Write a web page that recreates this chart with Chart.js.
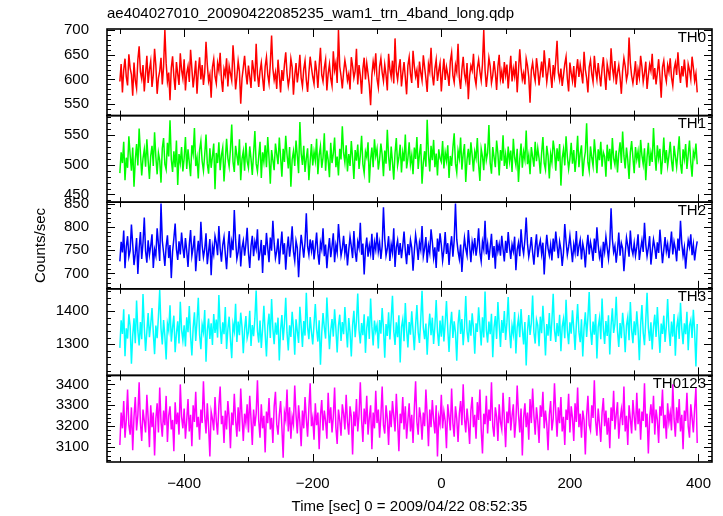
<!DOCTYPE html>
<html>
<head>
<meta charset="utf-8">
<script src="https://cdn.jsdelivr.net/npm/chart.js@4.4.1/dist/chart.umd.min.js"></script>
<style>
  html, body { margin: 0; padding: 0; background: #fff; }
  #wrap { position: relative; width: 723px; height: 516px; }
</style>
</head>
<body>
<div id="wrap"><canvas id="c" width="723" height="516"></canvas></div>
<script>
// ---- data (2 s bins from -500 s) ----
const T0 = -500;
const DT = 2;
const panelNames = ['TH0', 'TH1', 'TH2', 'TH3', 'TH0123'];
const xTicks = [-400, -200, 0, 200, 400];
const xMinorTicks = [-500, -300, -100, 100, 300];
const yTicks0 = [550, 600, 650, 700];
const yTicks1 = [450, 500, 550];
const yTicks2 = [700, 750, 800, 850];
const yTicks3 = [1300, 1400];
const yTicks4 = [3100, 3200, 3300, 3400];

const th0 = [
596,631,574,619,642,605,588,651,623,610,567,634,598,582,640,667,615,601,629,576,612,648,593,620,637,
585,609,662,628,571,603,617,644,590,626,700,633,596,614,558,623,647,606,579,635,611,589,653,619,602,
641,578,613,627,595,660,622,584,608,638,571,617,645,600,629,589,614,676,630,597,610,563,625,641,606,
592,633,618,654,600,575,621,609,643,586,627,612,598,669,631,580,605,637,616,551,602,624,648,613,590,
628,606,583,639,620,596,672,611,585,617,634,603,577,626,645,610,592,631,689,622,599,614,581,640,608,
574,619,597,630,655,612,587,604,642,625,569,608,633,594,616,650,603,586,621,638,599,575,613,646,624,
605,591,638,617,583,628,664,609,596,624,640,578,612,631,602,587,657,619,634,593,700,626,607,582,615,
639,622,598,611,580,645,627,603,617,662,590,629,608,571,621,644,600,633,612,588,548,609,636,618,653,
601,584,626,643,614,597,630,609,578,652,621,605,638,592,683,617,599,624,641,586,612,635,604,570,628,
645,611,593,658,627,606,619,583,636,614,598,649,625,602,575,631,616,664,609,588,622,640,597,618,633,
576,613,642,599,625,610,587,637,654,608,594,629,615,672,603,581,620,646,611,596,633,560,607,628,618,
652,604,589,623,640,616,598,631,700,619,585,611,644,627,593,608,637,613,579,626,650,601,617,592,635,
609,630,582,615,648,596,622,606,637,574,618,661,624,600,613,590,642,628,605,553,619,634,611,597,643,
621,588,613,636,604,659,626,595,617,643,610,583,629,607,638,678,614,599,622,587,608,631,646,602,576,
634,613,597,627,584,617,641,605,630,612,592,656,620,603,574,625,639,611,595,648,618,600,633,609,586,
622,645,608,579,631,616,598,663,624,605,637,590,614,629,604,571,618,643,627,599,612,685,633,607,592,
611,637,589,620,604,648,626,595,613,636,581,608,630,617,652,600,623,590,614,641,606,563,625,638,610,
596,629,615,643,604,587,621,634,609,655,618,593,627,606,640,612,584,631,619,601,646,624,597,612,574
];
const th1 = [
486,521,503,539,474,512,495,548,517,490,529,463,508,535,499,561,520,482,511,526,497,543,507,476,515,
532,498,555,513,484,520,507,470,528,545,501,492,537,514,575,509,488,523,496,541,466,518,503,530,489,
511,547,493,526,504,481,533,519,562,498,512,477,525,540,506,490,517,551,502,485,528,495,514,536,459,
520,503,538,491,516,529,472,508,544,511,497,526,568,505,488,532,516,499,543,474,510,523,490,537,506,
495,531,510,483,520,557,502,489,514,539,478,521,505,533,496,547,512,468,525,508,491,536,518,501,546,
513,480,527,505,549,517,494,530,463,509,523,498,541,515,486,572,519,500,532,488,511,528,474,506,535,
499,522,507,544,484,516,531,495,512,553,490,524,508,479,537,503,519,546,496,514,482,527,509,565,520,
504,533,489,518,498,540,511,476,525,507,534,493,516,549,501,486,522,513,538,470,509,529,496,543,515,
527,492,509,536,517,481,524,502,559,514,490,531,505,475,520,545,499,512,534,487,521,506,551,494,511,
538,501,516,484,529,510,547,493,518,535,468,504,523,497,576,517,489,532,508,542,496,519,482,526,511,
505,540,494,521,507,533,478,515,498,529,553,502,487,524,511,546,492,518,535,471,509,527,500,538,516,
489,522,511,545,500,473,527,514,491,536,508,520,567,503,485,530,513,496,541,519,482,525,507,550,498,
517,493,531,506,524,488,544,512,499,527,471,510,536,495,522,509,558,501,516,484,530,513,497,539,506,
528,511,485,520,547,503,492,532,515,477,518,504,541,524,490,528,506,535,465,511,526,499,548,514,493,
510,537,502,525,488,513,549,496,519,533,481,507,522,570,504,490,531,512,498,543,517,486,526,508,539,
497,521,514,480,534,506,527,492,545,511,500,524,487,519,538,503,556,515,494,529,508,476,521,540,512,
486,530,509,523,495,542,516,501,528,474,513,537,498,520,505,562,518,490,533,511,527,484,509,546,503,
525,498,515,539,507,489,532,514,496,521,548,502,485,526,510,535,493,517,541,504,480,522,513,536,501
];
const th2 = [
726,768,745,792,711,757,780,736,749,805,762,718,743,776,699,754,789,731,766,820,748,723,771,740,759,
784,712,751,738,797,763,727,850,770,745,716,758,782,733,761,690,747,775,807,752,729,769,741,788,755,
733,776,749,714,762,793,738,756,781,705,744,770,727,811,760,735,752,786,720,747,774,696,758,741,780,
766,739,802,753,725,761,778,742,709,757,791,734,768,750,836,772,731,746,784,715,755,770,738,763,798,
744,712,759,781,737,768,753,795,728,746,772,701,761,739,787,754,724,777,749,813,765,733,748,775,720,
757,790,741,765,708,752,779,736,763,801,747,727,770,755,692,745,783,760,734,767,829,758,740,773,749,
771,730,756,788,743,719,766,752,797,737,762,711,749,776,735,758,786,724,761,745,806,769,738,754,781,
742,763,717,750,779,758,733,791,746,725,768,755,809,740,764,698,752,777,736,760,743,785,729,767,751,
788,747,766,731,759,842,774,738,753,780,727,762,745,797,714,756,771,740,765,733,758,790,749,720,763,
739,772,755,706,748,783,761,729,766,751,802,737,754,778,723,760,744,795,768,734,756,712,775,747,786,
761,727,750,789,742,765,718,757,780,736,771,850,773,748,731,762,703,746,776,753,739,793,758,724,767,
749,776,738,760,797,745,726,768,752,813,741,763,729,756,785,734,759,710,772,747,763,738,781,752,726,
770,744,789,756,731,762,748,779,707,751,766,737,795,758,742,773,820,764,736,753,778,745,719,757,784,
735,758,771,742,766,698,749,783,754,739,761,728,775,747,790,760,733,768,751,716,745,806,769,740,757,
781,753,724,762,745,791,737,758,772,730,764,749,713,756,783,741,767,752,727,775,744,799,761,735,750,
712,768,747,779,755,732,763,840,774,746,759,723,751,788,738,765,754,705,743,777,760,736,792,753,741,
765,738,757,784,729,752,771,746,809,762,737,755,780,719,748,773,756,731,767,744,794,758,722,750,778,
747,763,733,759,790,741,768,753,726,775,749,813,764,738,756,710,745,771,757,784,739,762,728,752,769
];
const th3 = [
1289,1372,1331,1405,1264,1348,1317,1390,1355,1241,1326,1378,1303,1432,1340,1296,1367,1315,1451,1352,1280,1338,1394,1321,1360,
1409,1335,1270,1356,1318,1384,1463,1347,1299,1373,1325,1254,1362,1341,1417,1308,1350,1386,1276,1333,1369,1302,1428,1344,1311,
1357,1293,1381,1336,1415,1323,1266,1349,1396,1310,1370,1440,1328,1285,1359,1337,1403,1247,1342,1377,1316,1363,1298,1391,1334,
1374,1320,1448,1353,1301,1366,1330,1412,1286,1345,1383,1314,1258,1361,1339,1422,1307,1368,1327,1395,1352,1273,1344,1385,1318,
1336,1401,1295,1358,1324,1377,1462,1340,1305,1371,1289,1346,1416,1332,1263,1354,1392,1319,1436,1347,1300,1365,1329,1380,1251,
1343,1388,1312,1363,1440,1334,1281,1357,1322,1398,1349,1268,1375,1339,1304,1413,1356,1292,1370,1326,1455,1351,1315,1382,1337,
1299,1360,1421,1345,1308,1372,1238,1333,1394,1350,1317,1441,1362,1285,1341,1376,1323,1405,1347,1275,1355,1389,1310,1367,1330,
1412,1346,1290,1379,1336,1263,1358,1401,1321,1368,1453,1342,1302,1364,1327,1390,1274,1349,1384,1316,1438,1353,1296,1371,1339,
1358,1287,1373,1332,1409,1348,1259,1361,1325,1396,1314,1378,1446,1340,1298,1366,1321,1387,1245,1352,1375,1309,1424,1344,1290,
1367,1329,1399,1341,1282,1357,1418,1336,1304,1374,1461,1349,1315,1362,1268,1345,1392,1327,1380,1301,1354,1433,1338,1295,1371,
1323,1386,1308,1364,1430,1346,1277,1355,1398,1319,1369,1335,1250,1360,1404,1331,1376,1297,1352,1445,1339,1306,1372,1326,1393,
1348,1271,1363,1337,1411,1354,1296,1381,1320,1459,1343,1305,1368,1330,1392,1261,1350,1385,1316,1427,1358,1292,1373,1334,1400,
1313,1365,1442,1342,1288,1356,1330,1397,1272,1351,1379,1321,1406,1345,1299,1367,1236,1340,1388,1328,1363,1447,1336,1302,1374,
1357,1294,1383,1333,1416,1350,1266,1361,1326,1394,1310,1371,1452,1343,1307,1364,1324,1389,1279,1353,1376,1318,1434,1341,1300,
1366,1332,1402,1347,1283,1359,1421,1337,1306,1375,1263,1350,1396,1322,1381,1457,1344,1298,1368,1329,1391,1257,1352,1379,1315,
1438,1346,1301,1370,1325,1387,1269,1355,1408,1334,1361,1443,1339,1292,1364,1318,1395,1349,1276,1357,1382,1312,1427,1343,1303,
1369,1327,1399,1344,1252,1358,1418,1335,1297,1373,1455,1348,1310,1366,1284,1353,1389,1322,1412,1340,1274,1362,1331,1386,1307,
1354,1436,1342,1295,1368,1323,1391,1265,1350,1377,1316,1425,1347,1300,1363,1330,1398,1282,1356,1373,1319,1404,1338,1233,1361
];
const th0123 = [
3110,3265,3190,3320,3145,3230,3375,3205,3160,3290,3085,3245,3340,3180,3255,3410,3215,3130,3280,3225,3170,3350,3240,3100,3300,
3195,3265,3060,3235,3310,3170,3385,3220,3150,3275,3205,3345,3125,3250,3295,3185,3230,3080,3315,3210,3265,3160,3400,3245,3190,
3285,3140,3230,3330,3175,3255,3105,3300,3220,3365,3195,3245,3135,3280,3215,3415,3250,3165,3310,3200,3055,3270,3235,3180,3340,
3225,3160,3295,3390,3210,3250,3120,3275,3185,3320,3240,3095,3265,3205,3355,3230,3150,3290,3175,3380,3245,3130,3260,3215,3305,
3170,3345,3235,3110,3280,3200,3260,3420,3225,3145,3305,3190,3250,3075,3270,3215,3335,3185,3240,3120,3295,3365,3210,3160,3255,
3320,3195,3050,3265,3230,3375,3175,3290,3140,3245,3210,3395,3255,3165,3300,3220,3105,3275,3190,3340,3235,3150,3285,3405,3200,
3240,3135,3310,3205,3265,3090,3250,3325,3180,3275,3225,3140,3360,3215,3290,3170,3245,3385,3195,3115,3280,3230,3155,3305,3260,
3185,3350,3220,3160,3295,3245,3065,3270,3200,3330,3175,3255,3410,3230,3125,3285,3210,3345,3160,3240,3300,3090,3265,3190,3370,
3215,3280,3145,3250,3390,3205,3165,3300,3235,3110,3275,3195,3320,3250,3175,3355,3225,3080,3260,3215,3340,3185,3295,3140,3230,
3310,3175,3255,3120,3285,3415,3220,3160,3290,3240,3135,3265,3200,3375,3250,3105,3280,3195,3325,3230,3165,3300,3055,3245,3210,
3350,3190,3270,3225,3095,3305,3245,3180,3380,3215,3150,3295,3235,3125,3260,3320,3205,3400,3240,3170,3285,3215,3115,3275,3340,
3195,3255,3140,3315,3230,3375,3185,3070,3260,3210,3345,3165,3280,3225,3410,3200,3150,3290,3245,3130,3305,3220,3185,3360,3235,
3100,3270,3215,3340,3180,3250,3305,3145,3225,3395,3260,3170,3285,3060,3240,3310,3195,3265,3135,3330,3215,3380,3250,3160,3290,
3225,3120,3300,3245,3365,3190,3275,3210,3085,3255,3320,3180,3235,3405,3265,3150,3290,3215,3340,3175,3245,3110,3280,3230,3355,
3170,3295,3240,3130,3310,3220,3385,3195,3260,3145,3275,3230,3065,3250,3345,3205,3180,3300,3240,3420,3225,3155,3285,3210,3125,
3265,3335,3200,3275,3160,3240,3095,3290,3225,3370,3185,3255,3315,3140,3230,3280,3205,3390,3175,3250,3110,3300,3235,3165,3325,
3245,3180,3360,3210,3285,3135,3270,3225,3405,3195,3260,3070,3240,3305,3215,3345,3160,3280,3230,3120,3295,3250,3375,3190,3255,
3140,3310,3220,3265,3180,3400,3235,3150,3290,3215,3330,3175,3255,3090,3275,3225,3360,3200,3145,3305,3240,3170,3285,3385,3120
];

// ---- presentation ----
const series = [th0, th1, th2, th3, th0123];
const yTickSets = [yTicks0, yTicks1, yTicks2, yTicks3, yTicks4];
const yMins = [527, 437, 667, 1206, 3029];
const yMaxs = [702, 583, 853, 1467, 3443];
const yMinorSteps = [10, 10, 10, 20, 20];
const colors = ['#ff0000', '#00ff00', '#0000ff', '#00ffff', '#ff00ff'];
const FONT = { family: '"Liberation Sans", Arial, Helvetica, sans-serif', size: 15 };

const fmt = v => (v < 0 ? '\u2212' + Math.abs(v) : String(v));

const datasets = series.map((arr, i) => ({
  label: panelNames[i],
  data: arr.map((v, k) => ({ x: T0 + k * DT, y: v })),
  yAxisID: 'y' + i,
  borderColor: colors[i],
  borderWidth: 1.5,
  pointRadius: 0,
  tension: 0,
  fill: false
}));

const scales = {
  x: {
    type: 'linear', min: -520, max: 421,
    afterBuildTicks: s => { s.ticks = xTicks.map(v => ({ value: v })); },
    ticks: { font: FONT, color: '#000', padding: 5, autoSkip: false, maxRotation: 0, callback: v => fmt(v) },
    grid: { display: false }, border: { display: false },
    title: { display: true, text: 'Time [sec] 0 = 2009/04/22 08:52:35', font: FONT, color: '#000', padding: 0 }
  }
};
// stacked left axes are laid out bottom-up in definition order, so define the bottom panel first
for (let i = 4; i >= 0; i--) {
  scales['y' + i] = {
    type: 'linear', position: 'left', stack: 'panels', stackWeight: 1,
    min: yMins[i], max: yMaxs[i],
    afterBuildTicks: s => { s.ticks = yTickSets[i].map(v => ({ value: v })); },
    afterFit: s => { s.width = 75; },
    ticks: { font: FONT, color: '#000', padding: 10, autoSkip: false, callback: v => fmt(v) },
    grid: { display: false }, border: { display: false },
    title: { display: i === 2, text: 'Counts/sec', font: FONT, color: '#000', padding: 0 }
  };
}

const framePlugin = {
  id: 'frame',
  afterDatasetsDraw(chart) {
    const ctx = chart.ctx;
    const xs = chart.scales.x;
    const L = chart.chartArea.left, R = chart.chartArea.right;
    ctx.save();
    ctx.strokeStyle = '#000';
    ctx.lineWidth = 1;
    for (let i = 0; i < 5; i++) {
      const ys = chart.scales['y' + i];
      const T = ys.top, B = ys.bottom;
      ctx.beginPath();
      xTicks.forEach(v => { const p = Math.round(xs.getPixelForValue(v)) + 0.5; ctx.moveTo(p, B); ctx.lineTo(p, B - 8); ctx.moveTo(p, T); ctx.lineTo(p, T + 8); });
      xMinorTicks.forEach(v => { const p = Math.round(xs.getPixelForValue(v)) + 0.5; ctx.moveTo(p, B); ctx.lineTo(p, B - 5); ctx.moveTo(p, T); ctx.lineTo(p, T + 5); });
      const st = yMinorSteps[i];
      for (let v = Math.ceil(yMins[i] / st) * st; v <= yMaxs[i]; v += st) {
        const p = Math.round(ys.getPixelForValue(v)) + 0.5;
        const len = yTickSets[i].includes(v) ? 8 : 4;
        ctx.moveTo(L, p); ctx.lineTo(L + len, p);
        ctx.moveTo(R, p); ctx.lineTo(R - len, p);
      }
      ctx.stroke();
      ctx.lineWidth = 1.6;
      ctx.strokeRect(L, T, R - L, B - T);
      ctx.lineWidth = 1;
      ctx.fillStyle = '#000';
      ctx.font = FONT.size + 'px ' + FONT.family;
      ctx.textAlign = 'right';
      ctx.textBaseline = 'top';
      ctx.fillText(panelNames[i], R - 6, T + 1);
    }
    ctx.restore();
  }
};

new Chart(document.getElementById('c'), {
  type: 'line',
  data: { datasets },
  options: {
    responsive: false,
    animation: false,
    devicePixelRatio: 1,
    layout: { padding: { left: 32, right: 11, top: 1, bottom: 0 } },
    plugins: {
      legend: { display: false },
      tooltip: { enabled: false },
      title: {
        display: true, fullSize: false, align: 'start',
        text: 'ae404027010_20090422085235_wam1_trn_4band_long.qdp',
        font: { family: FONT.family, size: 15, weight: 'normal' }, color: '#000',
        padding: { top: 4, bottom: 6 }
      }
    },
    scales
  },
  plugins: [framePlugin]
});
</script>
</body>
</html>
